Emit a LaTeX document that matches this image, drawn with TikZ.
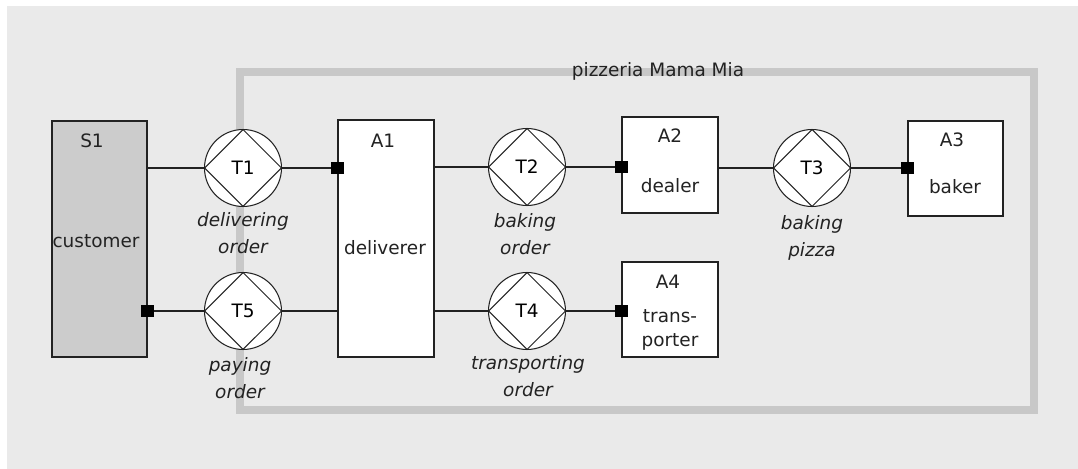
\documentclass[tikz,border=0pt]{standalone}
\usepackage{fontspec}
\setmainfont{DejaVu Sans}
\usetikzlibrary{positioning}
\definecolor{bggrey}{HTML}{EAEAEA}
\definecolor{framegrey}{HTML}{C8C8C8}
\definecolor{envgrey}{HTML}{CCCCCC}
\definecolor{ink}{HTML}{222222}

\begin{document}
\begin{tikzpicture}[x=0.02cm,y=-0.02cm,font=\fontsize{10.5}{12}\selectfont,
  actor/.style={draw=ink,fill=white,line width=0.7pt,inner sep=0pt},
  trans/.style={circle,draw=ink,fill=white,line width=0.6pt,minimum size=1.54cm,inner sep=0pt,
    path picture={\draw[ink,line width=0.6pt] (path picture bounding box.north)
      -- (path picture bounding box.east) -- (path picture bounding box.south)
      -- (path picture bounding box.west) -- cycle;}},
  port/.style={fill=black,minimum size=0.25cm,inner sep=0pt},
  tname/.style={text=ink,align=center,font=\itshape\fontsize{10.5}{15}\selectfont},
  link/.style={draw=ink,line width=0.6pt}]
\useasboundingbox (0,0) rectangle (1078,469);
\fill[bggrey] (7,6) rectangle (1078,469);

% pizzeria
\draw[framegrey,line width=0.16cm] (240,72) rectangle (1034,410);
\node[text=ink] (pmm) at (658,71) {pizzeria Mama Mia};

% actors
\node[actor,fill=envgrey,minimum width=1.9cm,minimum height=4.72cm] (S1) at (99.5,239) {};
\node[actor,minimum width=1.92cm,minimum height=4.74cm] (A1) at (386,238.5) {};
\node[actor,minimum width=1.92cm,minimum height=1.92cm] (A2) at (670,165) {};
\node[actor,minimum width=1.9cm,minimum height=1.9cm] (A3) at (955.5,168.5) {};
\node[actor,minimum width=1.92cm,minimum height=1.9cm] (A4) at (670,309.5) {};

\node[text=ink] (S1n) at (92,141) {S1};
\node[text=ink] (S1t) at (96,241) {customer};
\node[text=ink] (A1n) at (383,141) {A1};
\node[text=ink] (A1t) at (385,248) {deliverer};
\node[text=ink] (A2n) at (670,136) {A2};
\node[text=ink] (A2t) at (670,186) {dealer};
\node[text=ink] (A3n) at (952,140) {A3};
\node[text=ink] (A3t) at (955,187) {baker};
\node[text=ink] (A4n) at (668,282) {A4};
\node[text=ink,align=center,font=\fontsize{10.5}{14}\selectfont] (A4t) at (670,330) {trans-\\porter};

% transactions
\node[trans] (T1) at (243,168) {T1};
\node[trans] (T2) at (527,167) {T2};
\node[trans] (T3) at (812,168) {T3};
\node[trans] (T4) at (527,311) {T4};
\node[trans] (T5) at (243,311) {T5};

\node[tname] (T1t) at (243,233) {delivering\\order};
\node[tname] (T2t) at (525,234) {baking\\order};
\node[tname] (T3t) at (812,238) {baking\\pizza};
\node[tname] (T4t) at (528,376) {transporting\\order};
\node[tname] (T5t) at (240,378) {paying\\order};

% executor ports
\node[port] (p1) at (A1.west |- T1) {};
\node[port] (p2) at (A2.west |- T2) {};
\node[port] (p3) at (A3.west |- T3) {};
\node[port] (p4) at (A4.west |- T4) {};
\node[port] (p5) at (S1.east |- T5) {};

\draw[link] (S1.east |- T1) -- (T1) -- (p1);
\draw[link] (A1.east |- T2) -- (T2) -- (p2);
\draw[link] (A2.east |- T3) -- (T3) -- (p3);
\draw[link] (A1.east |- T4) -- (T4) -- (p4);
\draw[link] (p5) -- (T5) -- (A1.west |- T5);
\end{tikzpicture}
\end{document}
